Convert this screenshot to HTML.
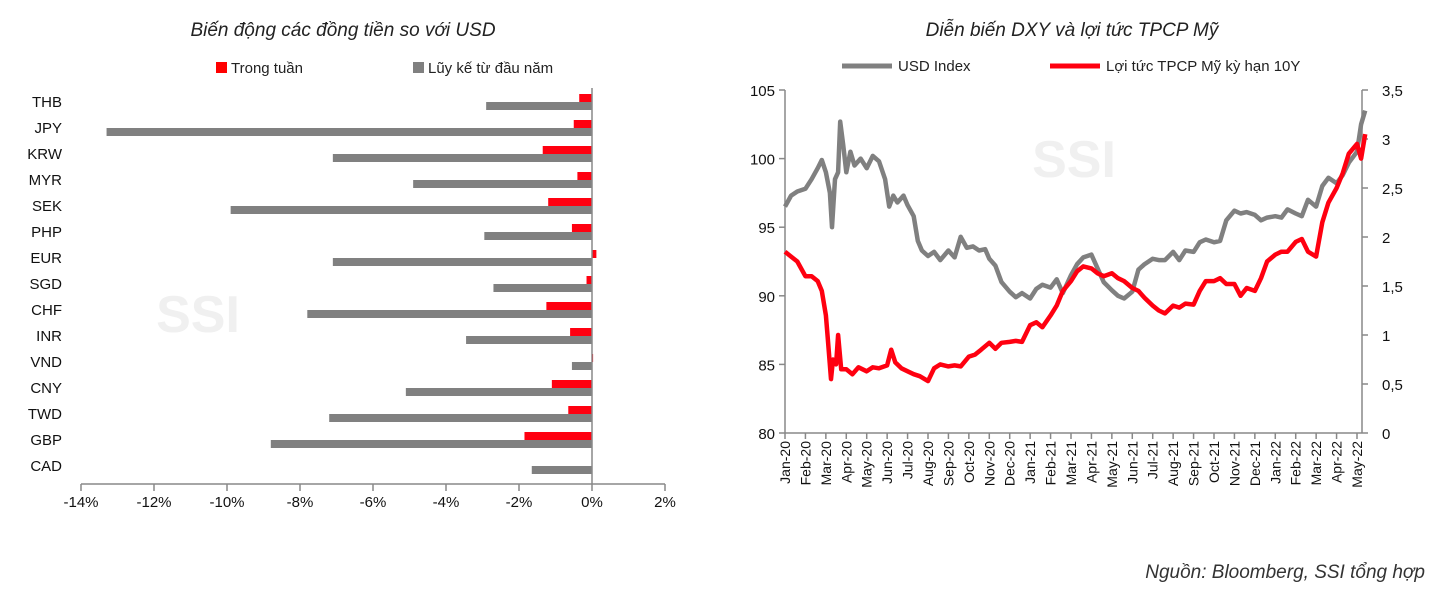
<!DOCTYPE html>
<html><head><meta charset="utf-8">
<style>
body{margin:0;background:#fff;width:1436px;height:594px;overflow:hidden;font-family:"Liberation Sans",sans-serif}
svg{position:absolute;left:0;top:0}
text{font-family:"Liberation Sans",sans-serif}
</style></head>
<body>
<svg id="c" width="1436" height="594"></svg>
<script>
const currencies=["THB","JPY","KRW","MYR","SEK","PHP","EUR","SGD","CHF","INR","VND","CNY","TWD","GBP","CAD"];
const weekly=[-0.35,-0.5,-1.35,-0.4,-1.2,-0.55,0.12,-0.15,-1.25,-0.6,0.03,-1.1,-0.65,-1.85,0];
const ytd=[-2.9,-13.3,-7.1,-4.9,-9.9,-2.95,-7.1,-2.7,-7.8,-3.45,-0.55,-5.1,-7.2,-8.8,-1.65];
const xTicks=[-14,-12,-10,-8,-6,-4,-2,0,2];
const months=["Jan-20","Feb-20","Mar-20","Apr-20","May-20","Jun-20","Jul-20","Aug-20","Sep-20","Oct-20","Nov-20","Dec-20","Jan-21","Feb-21","Mar-21","Apr-21","May-21","Jun-21","Jul-21","Aug-21","Sep-21","Oct-21","Nov-21","Dec-21","Jan-22","Feb-22","Mar-22","Apr-22","May-22"];
const dxyT=[0,0.3,0.6,1,1.3,1.6,1.8,2.0,2.2,2.3,2.45,2.6,2.7,2.85,3,3.2,3.4,3.7,4,4.3,4.6,4.9,5.1,5.3,5.5,5.8,6,6.3,6.5,6.7,7,7.3,7.6,8,8.3,8.6,8.9,9.2,9.5,9.8,10,10.3,10.6,11,11.3,11.6,12,12.3,12.6,13,13.3,13.6,14,14.3,14.6,15,15.3,15.6,16,16.3,16.6,17,17.3,17.6,18,18.3,18.6,19,19.3,19.6,20,20.3,20.6,21,21.3,21.6,22,22.3,22.6,23,23.3,23.6,24,24.3,24.6,25,25.3,25.6,26,26.3,26.6,27,27.3,27.6,28,28.2,28.4];
const dxyV=[96.5,97.3,97.6,97.8,98.5,99.3,99.9,99.0,97.5,95,98.5,99.0,102.7,101,99,100.5,99.5,100,99.3,100.2,99.8,98.5,96.5,97.3,96.8,97.3,96.6,95.8,94,93.3,92.9,93.2,92.6,93.3,92.8,94.3,93.5,93.6,93.3,93.4,92.7,92.2,91.0,90.3,89.9,90.2,89.8,90.5,90.8,90.6,91.2,90.2,91.5,92.3,92.8,93.0,92.0,91.0,90.4,90,89.8,90.3,91.9,92.3,92.7,92.6,92.6,93.2,92.6,93.3,93.2,93.9,94.1,93.9,94.0,95.5,96.2,96.0,96.1,95.9,95.5,95.7,95.8,95.7,96.3,96.0,95.8,97.0,96.5,98.0,98.6,98.2,98.8,99.7,100.5,102.5,103.5];
const ylT=[0,0.3,0.6,1,1.3,1.6,1.8,2,2.1,2.25,2.35,2.5,2.6,2.75,3,3.3,3.6,4,4.3,4.6,5,5.2,5.4,5.7,6,6.3,6.6,7,7.3,7.6,8,8.3,8.6,9,9.3,9.6,10,10.3,10.6,11,11.3,11.6,12,12.3,12.6,13,13.3,13.6,14,14.3,14.6,15,15.3,15.6,16,16.3,16.6,17,17.3,17.6,18,18.3,18.6,19,19.3,19.6,20,20.3,20.6,21,21.3,21.6,22,22.3,22.6,23,23.3,23.6,24,24.3,24.6,25,25.3,25.6,26,26.3,26.6,27,27.3,27.6,28,28.2,28.4];
const ylV=[1.85,1.8,1.75,1.6,1.6,1.55,1.45,1.2,0.95,0.55,0.75,0.7,1.0,0.65,0.65,0.6,0.67,0.63,0.67,0.66,0.69,0.85,0.72,0.66,0.63,0.6,0.58,0.53,0.66,0.7,0.68,0.69,0.68,0.78,0.8,0.85,0.92,0.86,0.92,0.93,0.94,0.93,1.1,1.13,1.08,1.2,1.3,1.45,1.55,1.65,1.7,1.68,1.63,1.6,1.63,1.58,1.55,1.48,1.45,1.38,1.3,1.25,1.22,1.3,1.28,1.32,1.31,1.45,1.55,1.55,1.58,1.52,1.52,1.4,1.48,1.45,1.58,1.75,1.82,1.85,1.85,1.95,1.98,1.85,1.8,2.15,2.35,2.5,2.65,2.85,2.95,2.8,3.05];
const leftTicks=[80,85,90,95,100,105];
const rightTicks=["0","0,5","1","1,5","2","2,5","3","3,5"];

const svg=document.getElementById('c');const NS="http://www.w3.org/2000/svg";
function mk(tag,a,parent){const e=document.createElementNS(NS,tag);for(const k in a)e.setAttribute(k,a[k]);(parent||svg).appendChild(e);return e;}
function txt(s,a){const e=mk('text',a);e.textContent=s;return e;}

// LEFT CHART
const lx=v=>592+(v)*36.5;
const catY=i=>101+i*26;
let t;
t=txt("Biến động các đồng tiền so với USD",{x:343,y:36,'font-size':19,'font-style':'italic','text-anchor':'middle',fill:'#222'});

let r=mk('rect',{x:216,y:62,width:11,height:11,fill:'#ff0000'});
t=txt("Trong tuần",{x:231,y:73,'font-size':15,fill:'#222'});
r=mk('rect',{x:413,y:62,width:11,height:11,fill:'#808080'});
t=txt("Lũy kế từ đầu năm",{x:428,y:73,'font-size':15,fill:'#222'});
t=txt("SSI",{x:198,y:332,'font-size':52,'font-weight':'bold',fill:'#f0f0f0','text-anchor':'middle'});
currencies.forEach((c,i)=>{
  const y=catY(i);
  const g=ytd[i],w=weekly[i];
  let b=mk('rect',{x:Math.min(lx(w),lx(0)),y:y-7,width:Math.abs(lx(w)-lx(0)),height:8,fill:'#ff0010'});
  
  b=mk('rect',{x:Math.min(lx(g),lx(0)),y:y+1,width:Math.abs(lx(g)-lx(0)),height:8,fill:'#808080'});
  
  const l=txt(c,{x:62,y:y+6,'font-size':15,'text-anchor':'end',fill:'#111'});
  
});
let ln=mk('line',{x1:lx(0),y1:88,x2:lx(0),y2:484,stroke:'#888','stroke-width':1.5});
ln=mk('line',{x1:lx(-14),y1:484,x2:lx(2),y2:484,stroke:'#888','stroke-width':1.5});
xTicks.forEach(v=>{
  const tk=mk('line',{x1:lx(v),y1:484,x2:lx(v),y2:491,stroke:'#888','stroke-width':1.5});
  const l=txt(v+"%",{x:lx(v),y:507,'font-size':15,'text-anchor':'middle',fill:'#111'});
});

// RIGHT CHART
const X0=785,X1=1357,Y0=433,Y1=90;
const mx=m=>X0+m*(X1-X0)/28;
const yl=v=>Y0-(v-80)/25*(Y0-Y1);
const yr=v=>Y0-v/3.5*(Y0-Y1);
t=txt("Diễn biến DXY và lợi tức TPCP Mỹ",{x:1072,y:36,'font-size':19,'font-style':'italic','text-anchor':'middle',fill:'#222'});

ln=mk('line',{x1:842,y1:66,x2:892,y2:66,stroke:'#808080','stroke-width':5});
t=txt("USD Index",{x:898,y:71,'font-size':15,fill:'#222'});
ln=mk('line',{x1:1050,y1:66,x2:1100,y2:66,stroke:'#ff0010','stroke-width':5});
t=txt("Lợi tức TPCP Mỹ kỳ hạn 10Y",{x:1106,y:71,'font-size':15,fill:'#222'});
t=txt("SSI",{x:1074,y:177,'font-size':52,'font-weight':'bold',fill:'#f0f0f0','text-anchor':'middle'});
ln=mk('line',{x1:X0,y1:Y1,x2:X0,y2:Y0,stroke:'#888','stroke-width':1.5});
ln=mk('line',{x1:1362,y1:Y1,x2:1362,y2:Y0,stroke:'#888','stroke-width':1.5});
ln=mk('line',{x1:X0,y1:Y0,x2:1362,y2:Y0,stroke:'#888','stroke-width':1.5});
leftTicks.forEach(v=>{
  const tk=mk('line',{x1:X0-6,y1:yl(v),x2:X0,y2:yl(v),stroke:'#888','stroke-width':1.5});
  const l=txt(String(v),{x:X0-10,y:yl(v)+6,'font-size':15,'text-anchor':'end',fill:'#111'});
});
rightTicks.forEach((s,i)=>{
  const v=i*0.5;
  const tk=mk('line',{x1:1362,y1:yr(v),x2:1368,y2:yr(v),stroke:'#888','stroke-width':1.5});
  const l=txt(s,{x:1382,y:yr(v)+6,'font-size':15,fill:'#111'});
});
months.forEach((m,i)=>{
  const x=mx(i);
  const tk=mk('line',{x1:x,y1:Y0,x2:x,y2:Y0+6,stroke:'#888','stroke-width':1.5});
  const l=txt(m,{x:x+5,y:Y0+8,'font-size':14,'text-anchor':'end',fill:'#111',transform:`rotate(-90 ${x+5} ${Y0+8})`});
  
});
let p=mk('polyline',{points:dxyT.map((m,i)=>mx(m).toFixed(1)+','+yl(dxyV[i]).toFixed(1)).join(' '),fill:'none',stroke:'#808080','stroke-width':4.5,'stroke-linejoin':'round'});

p=mk('polyline',{points:ylT.map((m,i)=>mx(m).toFixed(1)+','+yr(ylV[i]).toFixed(1)).join(' '),fill:'none',stroke:'#ff0010','stroke-width':4.5,'stroke-linejoin':'round'});


t=txt("Nguồn: Bloomberg, SSI tổng hợp",{x:1425,y:578,'font-size':19,'font-style':'italic','text-anchor':'end',fill:'#333'});

</script>
</body></html>
